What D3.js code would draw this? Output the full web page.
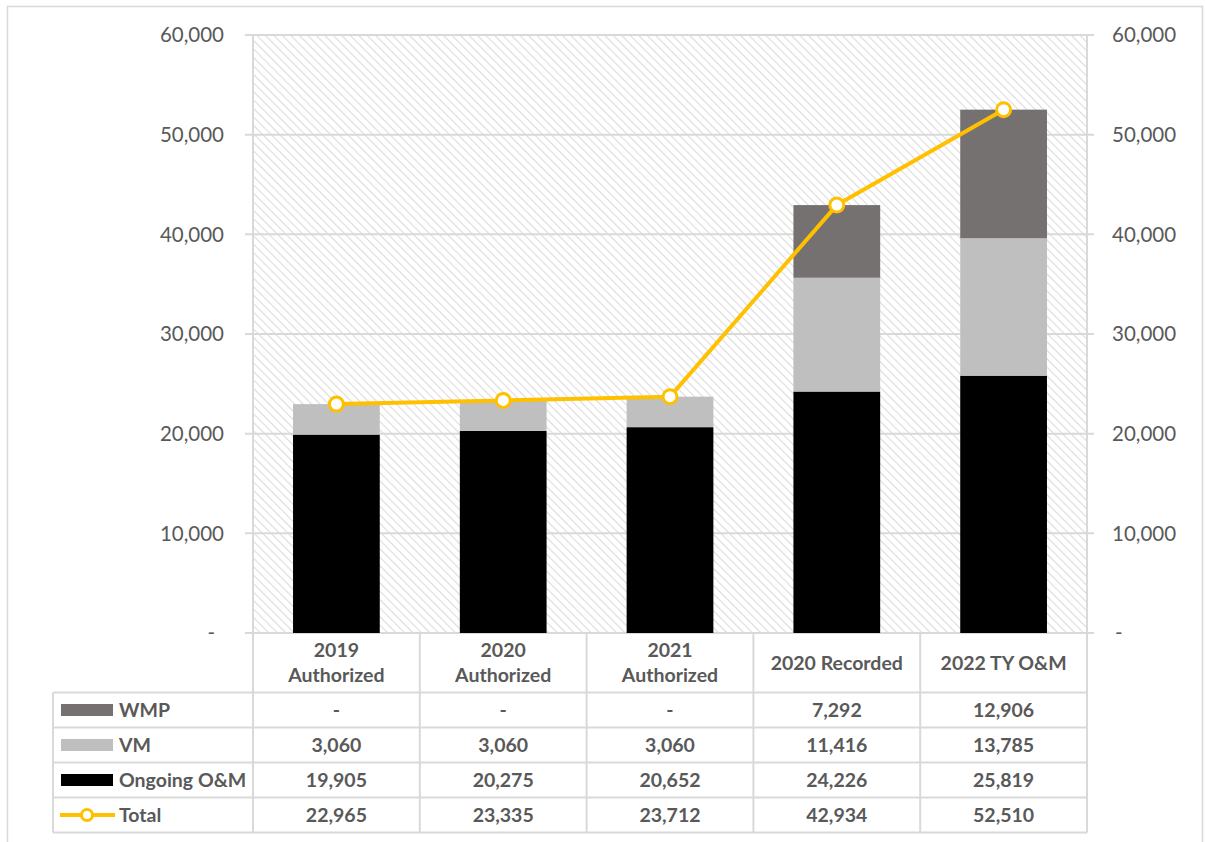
<!DOCTYPE html>
<html>
<head>
<meta charset="utf-8">
<script src="https://cdn.jsdelivr.net/npm/d3@7"></script>
<style>
  html, body { margin: 0; padding: 0; background: #fff; }
  svg text { font-family: Lato, "Open Sans", "Noto Sans", sans-serif; }
</style>
</head>
<body>
<svg id="chart" width="1205" height="842"></svg>
<script>
// Cost categories and series (thousands)
const categories = [["2019", "Authorized"], ["2020", "Authorized"], ["2021", "Authorized"], ["2020 Recorded"], ["2022 TY O&M"]];
const wmp = [0, 0, 0, 7292, 12906];
const vm = [3060, 3060, 3060, 11416, 13785];
const ongoing = [19905, 20275, 20652, 24226, 25819];
const total = [22965, 23335, 23712, 42934, 52510];
const yTicks = [0, 10000, 20000, 30000, 40000, 50000, 60000];
const seriesNames = ["WMP", "VM", "Ongoing O&M", "Total"];

const svg = d3.select("#chart");
const plot = { left: 253, right: 1087, top: 35, bottom: 633 };
const gridColor = "#d9d9d9";
const textColor = "#595959";
const tableFont = 19.5;
const axisFont = 20.5;

// outer frame
svg.append("rect").attr("x", 7.5).attr("y", 6.5).attr("width", 1195).attr("height", 850)
  .attr("fill", "none").attr("stroke", gridColor).attr("stroke-width", 1.5);

// diagonal hatch fill for the plot background
const defs = svg.append("defs");
const pat = defs.append("pattern").attr("id", "hatch").attr("patternUnits", "userSpaceOnUse")
  .attr("width", 6).attr("height", 6).attr("patternTransform", "rotate(-45)");
pat.append("rect").attr("width", 6).attr("height", 6).attr("fill", "#ffffff");
pat.append("line").attr("x1", 0).attr("y1", 0).attr("x2", 0).attr("y2", 6)
  .attr("stroke", "#dcdcdc").attr("stroke-width", 2.2);

const x = d3.scaleBand().domain(d3.range(categories.length)).range([plot.left, plot.right]).paddingInner(0).paddingOuter(0);
const y = d3.scaleLinear().domain([0, 60000]).range([plot.bottom, plot.top]);
const barW = x.bandwidth() * 0.52;

svg.append("rect").attr("x", plot.left).attr("y", plot.top)
  .attr("width", plot.right - plot.left).attr("height", plot.bottom - plot.top)
  .attr("fill", "url(#hatch)");

// horizontal gridlines (extending slightly past both sides)
svg.append("g").selectAll("line").data(yTicks).join("line")
  .attr("x1", plot.left - 8).attr("x2", plot.right + 7)
  .attr("y1", d => y(d)).attr("y2", d => y(d))
  .attr("stroke", gridColor).attr("stroke-width", 2);

// left and right axis labels
const fmt = d => d === 0 ? "-" : d3.format(",")(d);
svg.append("g").selectAll("text").data(yTicks).join("text")
  .attr("x", d => d === 0 ? 215 : 224).attr("y", d => y(d)).attr("dy", "0.35em")
  .attr("text-anchor", "end").attr("font-size", axisFont).attr("fill", textColor).text(fmt);
svg.append("g").selectAll("text").data(yTicks).join("text")
  .attr("x", d => d === 0 ? 1115 : 1112).attr("y", d => y(d)).attr("dy", "0.35em")
  .attr("text-anchor", "start").attr("font-size", axisFont).attr("fill", textColor).text(fmt);

// stacked bars
const stackData = categories.map((c, i) => ({ i, ongoing: ongoing[i], vm: vm[i], wmp: wmp[i] }));
const stack = d3.stack().keys(["ongoing", "vm", "wmp"])(stackData);
const colors = { ongoing: "#000000", vm: "#bfbfbf", wmp: "#767171" };
svg.append("g").selectAll("g").data(stack).join("g")
  .attr("fill", s => colors[s.key])
  .selectAll("rect").data(s => s).join("rect")
  .attr("x", d => x(d.data.i) + (x.bandwidth() - barW) / 2)
  .attr("width", barW)
  .attr("y", d => y(d[1]))
  .attr("height", d => y(d[0]) - y(d[1]));

// plot side borders (table column lines continue through the plot)
svg.append("g").selectAll("line").data([plot.left, plot.right]).join("line")
  .attr("x1", d => d).attr("x2", d => d).attr("y1", plot.top).attr("y2", plot.bottom)
  .attr("stroke", gridColor).attr("stroke-width", 2);

// total line with markers
const cx = i => x(i) + x.bandwidth() / 2;
svg.append("path").datum(total)
  .attr("fill", "none").attr("stroke", "#ffc000").attr("stroke-width", 4).attr("stroke-linejoin", "round")
  .attr("d", d3.line().x((d, i) => cx(i)).y(d => y(d)));
svg.append("g").selectAll("circle").data(total).join("circle")
  .attr("cx", (d, i) => cx(i)).attr("cy", d => y(d)).attr("r", 7)
  .attr("fill", "#fff").attr("stroke", "#ffc000").attr("stroke-width", 3);

// data table
const rowY = [633, 692.5, 727.5, 762.5, 797.5, 832.5];
const tableLeft = 53;
const tg = svg.append("g");
tg.selectAll("line.h").data(rowY.slice(1)).join("line").attr("class", "h")
  .attr("x1", tableLeft).attr("x2", plot.right).attr("y1", d => d).attr("y2", d => d)
  .attr("stroke", gridColor).attr("stroke-width", 2);
const colX = d3.range(categories.length + 1).map(i => i < categories.length ? x(i) : plot.right);
tg.selectAll("line.v").data(colX).join("line").attr("class", "v")
  .attr("x1", d => d).attr("x2", d => d).attr("y1", plot.bottom).attr("y2", rowY[5])
  .attr("stroke", gridColor).attr("stroke-width", 2);
tg.append("line").attr("x1", tableLeft).attr("x2", tableLeft).attr("y1", rowY[1]).attr("y2", rowY[5])
  .attr("stroke", gridColor).attr("stroke-width", 2);

// category headers
categories.forEach((lines, i) => {
  const t = tg.append("text").attr("text-anchor", "middle").attr("font-size", tableFont).attr("font-weight", "bold")
    .attr("fill", textColor);
  const mid = (rowY[0] + rowY[1]) / 2;
  lines.forEach((ln, k) => {
    t.append("tspan").attr("x", cx(i))
      .attr("y", mid + (k - (lines.length - 1) / 2) * 25)
      .attr("dy", "0.35em").text(ln);
  });
});

// value rows with legend keys
const rows = [wmp, vm, ongoing, total];
rows.forEach((vals, r) => {
  const my = (rowY[r + 1] + rowY[r + 2]) / 2;
  tg.append("g").selectAll("text").data(vals).join("text")
    .attr("x", (d, i) => cx(i)).attr("y", my).attr("dy", "0.35em")
    .attr("text-anchor", "middle").attr("font-size", tableFont).attr("font-weight", "bold")
    .attr("fill", textColor).text(d => d === 0 ? "-" : d3.format(",")(d));
  const lg = tg.append("g");
  if (r < 3) {
    const key = ["wmp", "vm", "ongoing"][r];
    lg.append("rect").attr("x", 61).attr("y", my - 6).attr("width", 52).attr("height", 12).attr("fill", colors[key]);
  } else {
    lg.append("line").attr("x1", 60).attr("x2", 115).attr("y1", my).attr("y2", my)
      .attr("stroke", "#ffc000").attr("stroke-width", 4);
    lg.append("circle").attr("cx", 87).attr("cy", my).attr("r", 5.5)
      .attr("fill", "#fff").attr("stroke", "#ffc000").attr("stroke-width", 3);
  }
  lg.append("text").attr("x", 119).attr("y", my).attr("dy", "0.35em")
    .attr("font-size", tableFont).attr("font-weight", "bold").attr("fill", textColor).text(seriesNames[r]);
});
</script>
</body>
</html>
